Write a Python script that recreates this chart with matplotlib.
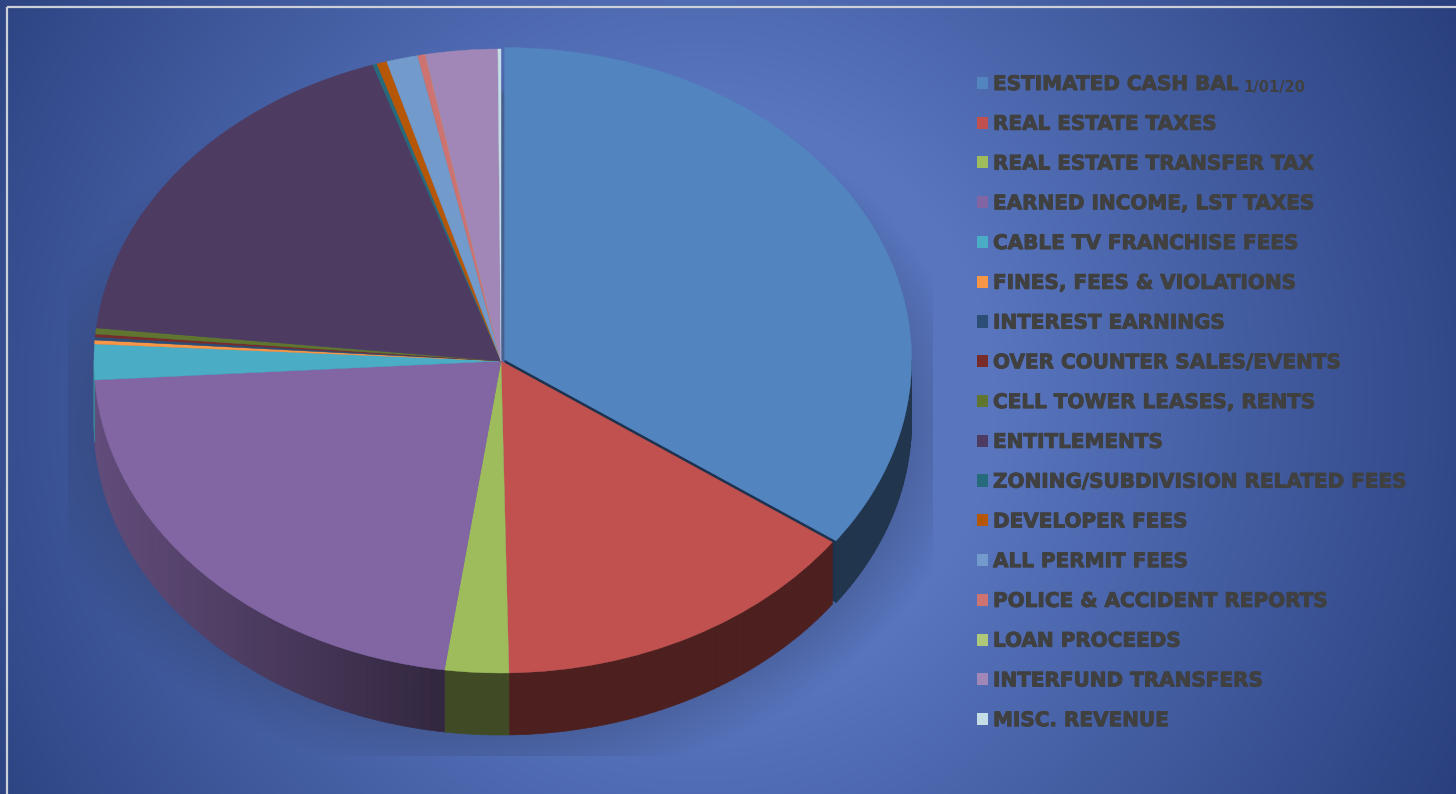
import numpy as np
import matplotlib
matplotlib.use("Agg")
import matplotlib.pyplot as plt
import matplotlib.patheffects as pe
from matplotlib.patches import Rectangle, Patch

categories = ["ESTIMATED CASH BAL", "REAL ESTATE TAXES", "REAL ESTATE TRANSFER TAX",
              "EARNED INCOME, LST TAXES", "CABLE TV FRANCHISE FEES", "FINES, FEES & VIOLATIONS",
              "INTEREST EARNINGS", "OVER COUNTER SALES/EVENTS", "CELL TOWER LEASES, RENTS",
              "ENTITLEMENTS", "ZONING/SUBDIVISION RELATED FEES", "DEVELOPER FEES",
              "ALL PERMIT FEES", "POLICE & ACCIDENT REPORTS", "LOAN PROCEEDS",
              "INTERFUND TRANSFERS", "MISC. REVENUE"]
values = [34.86, 14.83, 2.53, 21.81, 1.84, 0.20, 0.16, 0.15, 0.31, 18.21,
          0.17, 0.40, 1.25, 0.31, 0.0, 2.85, 0.12]
colors = ["#5284C0", "#C0514E", "#9FBC5C", "#8265A3", "#4BACC6", "#F79646", "#2C4D75",
          "#772C2A", "#5F7530", "#4D3B62", "#276A7C", "#B65708", "#729ACA", "#CD7371",
          "#AFC97A", "#A087B8", "#C4DDE6"]
date_note = "1/01/20"
explode = [0.01] + [0.0] * 16

W, H = 1456, 794
CX, CY, RX, RY = 501.0, 361.0, 407.0, 312.0
DEPTH = 62.0 / RY
TXT = "#404040"
FONT = "DejaVu Sans"

fig = plt.figure(figsize=(W / 100, H / 100), dpi=100)

# background gradient with the soft shadow box under the pie
bg = fig.add_axes([0, 0, 1, 1], zorder=0)
yy, xx = np.mgrid[0:H, 0:W]
r = np.sqrt((xx - 700.0) ** 2 + (yy - 400.0) ** 2) / 850
t = np.clip((r - 0.35) / 0.65, 0, 1)[..., None]
inner = np.array([88, 117, 190.0])
outer = np.array([42, 64, 126.0])
img = inner * (1 - t) + outer * t
d = np.sqrt(((xx - CX) / RX) ** 2 + ((yy - (CY + 62)) / RY) ** 2)
sh = np.clip((1.16 - d) / 0.16, 0, 1) * 0.26
sh[(xx < 68) | (xx > 932) | (yy > 755)] = 0
img = img * (1 - sh[..., None]) + np.array([40, 50, 80.0]) * sh[..., None]
bg.imshow(img.astype(np.uint8), extent=(0, W, H, 0), aspect="auto", interpolation="bilinear")
bg.axis("off")
bg.add_patch(Rectangle((6.5, 6.5), W, H, fill=False, ec="#CDD0D6", lw=1.6))

# pie: unit circle on stretched axes gives the tilted ellipse
ax = fig.add_axes([0, 0, 1, 1], zorder=1)
ax.patch.set_alpha(0)
wedges, _ = ax.pie(values, colors=colors, startangle=90, counterclock=False, radius=1,
                   explode=explode, wedgeprops=dict(linewidth=0.3, zorder=3))
for w_, c_ in zip(wedges, colors):
    w_.set_edgecolor(c_)
ax.set_aspect("auto")
ax.set_xlim(-CX / RX, (W - CX) / RX)
ax.set_ylim(-(H - CY) / RY, CY / RY)

fractions = np.array(values) / sum(values)
edges = np.concatenate([[0], np.cumsum(fractions)]) * 2 * np.pi   # clockwise from top


def shade(rgb, x):
    # wall darkness depends on horizontal position, brighter towards the far left
    px = CX + x * RX
    f = 0.40 + 0.36 * np.clip((430 - px) / 340, 0, 1)
    return tuple(np.array(rgb) * f)


for i, (a, b) in enumerate(zip(edges[:-1], edges[1:])):
    lo, hi = max(a, np.pi / 2), min(b, 3 * np.pi / 2)
    if hi <= lo:
        continue
    mid = (a + b) / 2
    ox, oy = explode[i] * np.sin(mid), explode[i] * np.cos(mid)
    rgb = matplotlib.colors.to_rgb(colors[i])
    n = max(2, int((hi - lo) / 0.02))
    th = np.linspace(lo, hi, n + 1)
    for t0, t1 in zip(th[:-1], th[1:]):
        xs = ox + np.sin([t0, t1, t1, t0])
        ys = oy + np.cos([t0, t1, t1, t0]) - np.array([0, 0, DEPTH, DEPTH])
        ax.fill(xs, ys, color=shade(rgb, xs.mean()), lw=0.5, zorder=2)

# radial inner walls of the slightly pulled-out first slice
mid0 = (edges[0] + edges[1]) / 2
ox0, oy0 = explode[0] * np.sin(mid0), explode[0] * np.cos(mid0)
ax.fill([ox0 - 0.02, ox0 + 0.002, ox0 + 0.002, ox0 - 0.02],
        [oy0, oy0, 1 - 44 / RY, 1 - 44 / RY], color="#46608F", lw=0, zorder=1)
tipx, tipy = ox0 + np.sin(edges[1]), oy0 + np.cos(edges[1])
ax.fill([ox0, tipx, tipx, ox0], [oy0, tipy, tipy - DEPTH, oy0 - DEPTH],
        color="#1C324E", lw=0, zorder=1)

# legend
FS = 14.4
handles = [Patch(facecolor=c, edgecolor="none") for c in colors]
leg = fig.legend(handles, categories, loc="upper left", bbox_to_anchor=(977 / W, 1 - 75 / H),
                 frameon=False, borderpad=0, borderaxespad=0, handlelength=11 / (FS * 100 / 72),
                 handleheight=11 / (FS * 100 / 72), handletextpad=0.25, labelspacing=1.038,
                 prop=dict(family=FONT, weight="bold", size=FS), labelcolor=TXT)
for txt in leg.get_texts():
    txt.set_path_effects([pe.withStroke(linewidth=0.7, foreground=TXT)])
fig.text(1243 / W, 1 - 92 / H, date_note, family=FONT, weight="bold", size=10.5, color=TXT,
         va="baseline", ha="left")

fig.savefig("out.png", dpi=100)
